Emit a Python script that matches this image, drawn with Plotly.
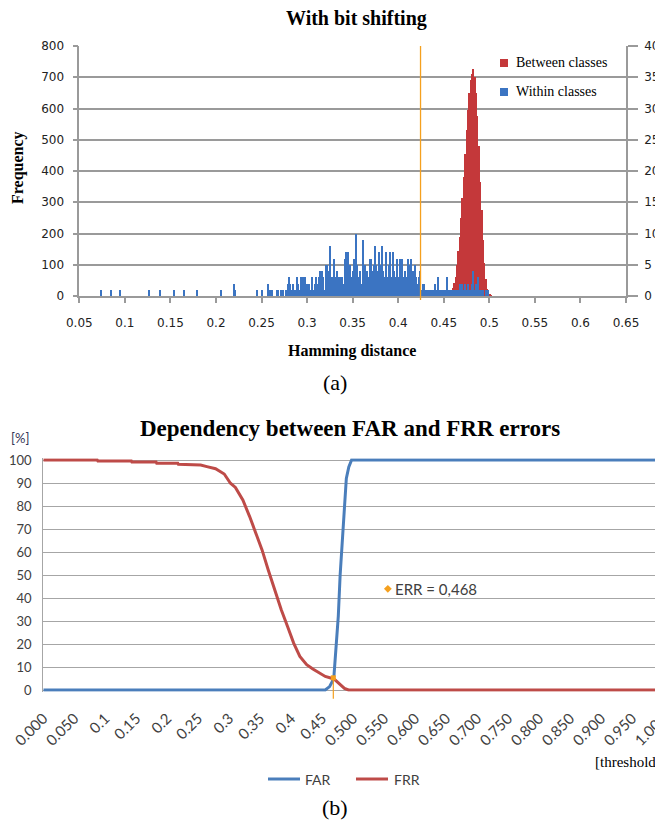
import plotly.graph_objects as go

# page body has an 8 px margin, so the figure is sized to fill the rest of the window
OFF = 8
W, H = 663 - OFF, 822 - OFF

# ---------------- (a) histogram data ----------------
between_start = 0.4605
between_step = 0.0015
between_counts = [27, 43, 60, 100, 145, 190, 250, 315, 380, 455, 530, 595, 650, 690,
                  712, 725, 700, 650, 575, 480, 365, 275, 180, 105, 55, 22, 10, 4, 1]

within_sparse_hd = [0.0738, 0.0856, 0.0947, 0.1266, 0.1395, 0.1541, 0.1651, 0.1801,
                    0.2057, 0.2200, 0.2215]
within_sparse_count = [1, 1, 1, 1, 1, 1, 1, 1, 1, 2, 1]

within_start = 0.246
within_step = 0.0015
within_counts = [
    1, 0, 0, 1, 0, 0, 0, 0, 2, 1,
    0, 1, 0, 0, 1, 1, 0, 1, 1, 1,
    0, 1, 2, 3, 2, 1, 2, 1, 1, 3,
    2, 1, 3, 3, 3, 3, 2, 1, 2, 1,
    3, 1, 2, 3, 2, 3, 4, 4, 3, 1,
    5, 5, 4, 8, 3, 3, 6, 3, 4, 3,
    3, 3, 3, 2, 6, 7, 7, 4, 5, 3,
    4, 6, 10, 5, 3, 4, 2, 9, 3, 5,
    4, 3, 6, 6, 4, 5, 8, 5, 4, 7,
    5, 8, 4, 3, 7, 3, 5, 7, 3, 7,
    4, 3, 6, 3, 6, 4, 6, 3, 4, 3,
    6, 5, 6, 3, 4, 5, 3, 2, 3, 4,
    1, 2, 2, 1, 1, 1, 1, 1, 1, 1,
    2, 1, 3, 1, 1, 1, 1, 1, 1, 3,
    1, 1, 1, 1, 1, 1, 1, 1, 2, 1,
    2, 1, 2, 1, 2, 1, 1, 2, 4, 1,
    2, 3, 1, 1, 1, 1, 0, 1, 0, 1,
]
threshold_a = 0.4245

top_xticks = [0.05, 0.1, 0.15, 0.2, 0.25, 0.3, 0.35, 0.4, 0.45, 0.5, 0.55, 0.6, 0.65]
top_xtick_text = ["0.05", "0.1", "0.15", "0.2", "0.25", "0.3", "0.35", "0.4", "0.45",
                  "0.5", "0.55", "0.6", "0.65"]

# ---------------- (b) FAR / FRR data ----------------
far_x = [0, 0.455, 0.462, 0.466, 0.469, 0.472, 0.476, 0.479, 0.483, 0.486, 0.489,
         0.493, 0.4975, 1.0]
far_y = [0, 0, 1.5, 3.5, 6, 16, 32, 50, 67, 82, 92, 97, 100, 100]

frr_x = [0, 0.087, 0.088, 0.142, 0.143, 0.182, 0.183, 0.217, 0.218, 0.254, 0.264, 0.278,
         0.292, 0.302, 0.310, 0.322, 0.333, 0.343, 0.353, 0.363, 0.373, 0.384, 0.394,
         0.404, 0.414, 0.425, 0.435, 0.445, 0.455, 0.469, 0.479, 0.486, 0.4925, 1.0]
frr_y = [100, 100, 99.6, 99.6, 99.1, 99.1, 98.6, 98.6, 98.1, 97.8, 97.1, 96.2,
         93.9, 89.9, 88.1, 82.6, 75.4, 68.2, 60.9, 52.2, 43.6, 34.9, 27.7,
         20.4, 14.6, 11, 9.1, 7.4, 5.9, 4.8, 2.3, 0.7, 0, 0]

err_x, err_y = 0.468, 5.3
err_label_x, err_label_y = 0.556, 44
err_text = "ERR = 0,468"

bottom_xticks = [0, 0.05, 0.1, 0.15, 0.2, 0.25, 0.3, 0.35, 0.4, 0.45, 0.5, 0.55, 0.6,
                 0.65, 0.7, 0.75, 0.8, 0.85, 0.9, 0.95, 1.0]
bottom_xtick_text = ["0.000", "0.050", "0.1", "0.15", "0.2", "0.25", "0.3", "0.35", "0.4",
                     "0.45", "0.500", "0.550", "0.600", "0.650", "0.700", "0.750", "0.800",
                     "0.850", "0.900", "0.950", "1.000"]

# ---------------- styling ----------------
RED_BAR = "#C4383A"
BLUE_BAR = "#3B74C2"
FAR_C = "#4A7EBB"
FRR_C = "#BE4B48"
ORANGE = "#F5A01E"
SERIF = "Liberation Serif"
SANS_A = "DejaVu Sans"
SANS_B = "Lato"


def px_x(p):
    """window pixel -> paper fraction"""
    return (p - OFF) / W


def px_y(p):
    return 1 - (p - OFF) / H


between_x = [round(between_start + between_step * i, 4) for i in range(len(between_counts))]
within_x = within_sparse_hd + [round(within_start + within_step * i, 4) for i in range(len(within_counts))]
within_y = within_sparse_count + within_counts

fig = go.Figure()

fig.add_trace(go.Bar(x=between_x, y=between_counts, width=0.0015, marker_color=RED_BAR,
                     marker_line_width=0, name="Between classes", xaxis="x", yaxis="y",
                     showlegend=False))
fig.add_trace(go.Bar(x=within_x, y=within_y, width=0.0014, marker_color=BLUE_BAR,
                     marker_line_width=0, name="Within classes", xaxis="x", yaxis="y2",
                     showlegend=False))

fig.add_trace(go.Scatter(x=far_x, y=far_y, mode="lines", line=dict(color=FAR_C, width=3),
                         name="FAR", xaxis="x2", yaxis="y3", showlegend=False))
fig.add_trace(go.Scatter(x=frr_x, y=frr_y, mode="lines", line=dict(color=FRR_C, width=3),
                         name="FRR", xaxis="x2", yaxis="y3", showlegend=False))
fig.add_trace(go.Scatter(x=[err_x], y=[err_y], mode="markers",
                         marker=dict(symbol="square", size=5, color=ORANGE),
                         xaxis="x2", yaxis="y3", showlegend=False, cliponaxis=False))
fig.add_trace(go.Scatter(x=[err_label_x], y=[err_label_y], mode="markers",
                         marker=dict(symbol="diamond", size=6, color=ORANGE),
                         xaxis="x2", yaxis="y3", showlegend=False))

top_dom_x = [px_x(79.3), px_x(626)]
top_dom_y = [px_y(296), px_y(46)]
bot_dom_x = [px_x(43.3), 1.0]
bot_yrange = [-0.8, 100.8]
bot_dom_y = [px_y(691.84), px_y(458.16)]

axis_grey = "#9A9A9A"
fig.update_layout(
    width=W, height=H,
    margin=dict(l=0, r=0, t=0, b=0, pad=0, autoexpand=False),
    paper_bgcolor="white", plot_bgcolor="white",
    barmode="overlay", bargap=0,
    xaxis=dict(domain=top_dom_x, anchor="y", range=[0.05, 0.65], automargin=False,
               tickvals=top_xticks, ticktext=top_xtick_text,
               showgrid=False, zeroline=False, showline=True, linecolor=axis_grey, linewidth=1.5,
               ticks="outside", ticklen=5, tickcolor=axis_grey, tickwidth=1.5,
               ticklabelstandoff=10,
               tickfont=dict(family=SANS_A, size=12, color="#222")),
    yaxis=dict(domain=top_dom_y, anchor="x", range=[0, 800], dtick=100, automargin=False,
               showgrid=True, gridcolor=axis_grey, gridwidth=1.5, zeroline=False,
               showline=True, linecolor=axis_grey, linewidth=1.5,
               ticks="outside", ticklen=5, tickcolor=axis_grey, tickwidth=1.5,
               ticklabelstandoff=6,
               tickfont=dict(family=SANS_A, size=12, color="#222")),
    yaxis2=dict(overlaying="y", side="right", anchor="x", range=[0, 40], dtick=5,
                automargin=False,
                showgrid=False, zeroline=False, showline=True, linecolor=axis_grey,
                linewidth=1.5, ticks="outside", ticklen=10, tickcolor=axis_grey, tickwidth=1.5,
                ticklabelstandoff=4,
                tickfont=dict(family=SANS_A, size=12, color="#222")),
    xaxis2=dict(domain=bot_dom_x, anchor="y3", range=[0, 1.0], automargin=False,
                tickvals=bottom_xticks, ticktext=bottom_xtick_text, tickangle=-45,
                showgrid=False, zeroline=False, showline=False, ticks="",
                ticklabelstandoff=14, ticklabeloverflow="allow",
                tickfont=dict(family=SANS_B, size=15, color="#404040")),
    yaxis3=dict(domain=bot_dom_y, anchor="x2", range=bot_yrange, tickvals=list(range(0, 101, 10)),
                automargin=False,
                showgrid=True, gridcolor="#A6A6A6", gridwidth=1.3,
                zeroline=True, zerolinecolor="#A6A6A6", zerolinewidth=1.3,
                showline=True, linecolor="#A6A6A6", linewidth=1.3, ticks="",
                ticklabelstandoff=8,
                tickfont=dict(family=SANS_B, size=13, color="#404040")),
)

shapes = []
# threshold line in (a)
shapes.append(dict(type="line", xref="x", yref="y domain", x0=threshold_a, x1=threshold_a,
                   y0=-0.016, y1=1, line=dict(color=ORANGE, width=1.3)))
# ERR drop line in (b)
dom_h = bot_yrange[1] - bot_yrange[0]
shapes.append(dict(type="line", xref="x2", yref="y3 domain", x0=err_x, x1=err_x,
                   y0=-0.03, y1=(err_y - bot_yrange[0]) / dom_h,
                   line=dict(color=ORANGE, width=1.2)))
# legend (a)
for yc, col in [(63, RED_BAR), (92, BLUE_BAR)]:
    shapes.append(dict(type="rect", xref="paper", yref="paper",
                       x0=px_x(500), x1=px_x(508), y0=px_y(yc + 4), y1=px_y(yc - 4),
                       fillcolor=col, line=dict(width=0)))
# legend (b)
for x0, x1, col in [(268, 300, FAR_C), (356, 388, FRR_C)]:
    shapes.append(dict(type="line", xref="paper", yref="paper",
                       x0=px_x(x0), x1=px_x(x1), y0=px_y(779), y1=px_y(779),
                       line=dict(color=col, width=3)))
fig.update_layout(shapes=shapes)

ann = []


def txt(text, x, y, size, family, color="#000", bold=False, xanchor="center", angle=0,
        xref="paper", yref="paper"):
    t = f"<b>{text}</b>" if bold else text
    ann.append(dict(text=t, x=x, y=y, xref=xref, yref=yref, showarrow=False,
                    xanchor=xanchor, yanchor="middle", textangle=angle,
                    font=dict(family=family, size=size, color=color)))


txt("With bit shifting", px_x(356), px_y(18), 20, SERIF, bold=True)
txt("Frequency", px_x(18), px_y(168), 16, SERIF, bold=True, angle=-90)
txt("Hamming distance", px_x(352), px_y(351), 16, SERIF, bold=True)
txt("(a)", px_x(335), px_y(382), 22, SERIF)
txt("Between classes", px_x(514), px_y(63), 14, SERIF, xanchor="left")
txt("Within classes", px_x(514), px_y(92), 14, SERIF, xanchor="left")

txt("Dependency between FAR and FRR errors", px_x(350), px_y(428), 23, SERIF, bold=True)
txt("[%]", px_x(20), px_y(438), 13, SANS_B, color="#333355")
txt("[threshold]", 1.0, px_y(762), 15, SERIF, xanchor="right")
txt("FAR", px_x(303), px_y(779), 14, SANS_B, color="#404040", xanchor="left")
txt("FRR", px_x(392), px_y(779), 14, SANS_B, color="#404040", xanchor="left")
txt("(b)", px_x(335), px_y(807), 22, SERIF)
txt(err_text, err_label_x, err_label_y, 15, SANS_B, color="#404040", xanchor="left",
    xref="x2", yref="y3")
ann[-1]["xshift"] = 5

fig.update_layout(annotations=ann)

fig.write_html("out.html")
